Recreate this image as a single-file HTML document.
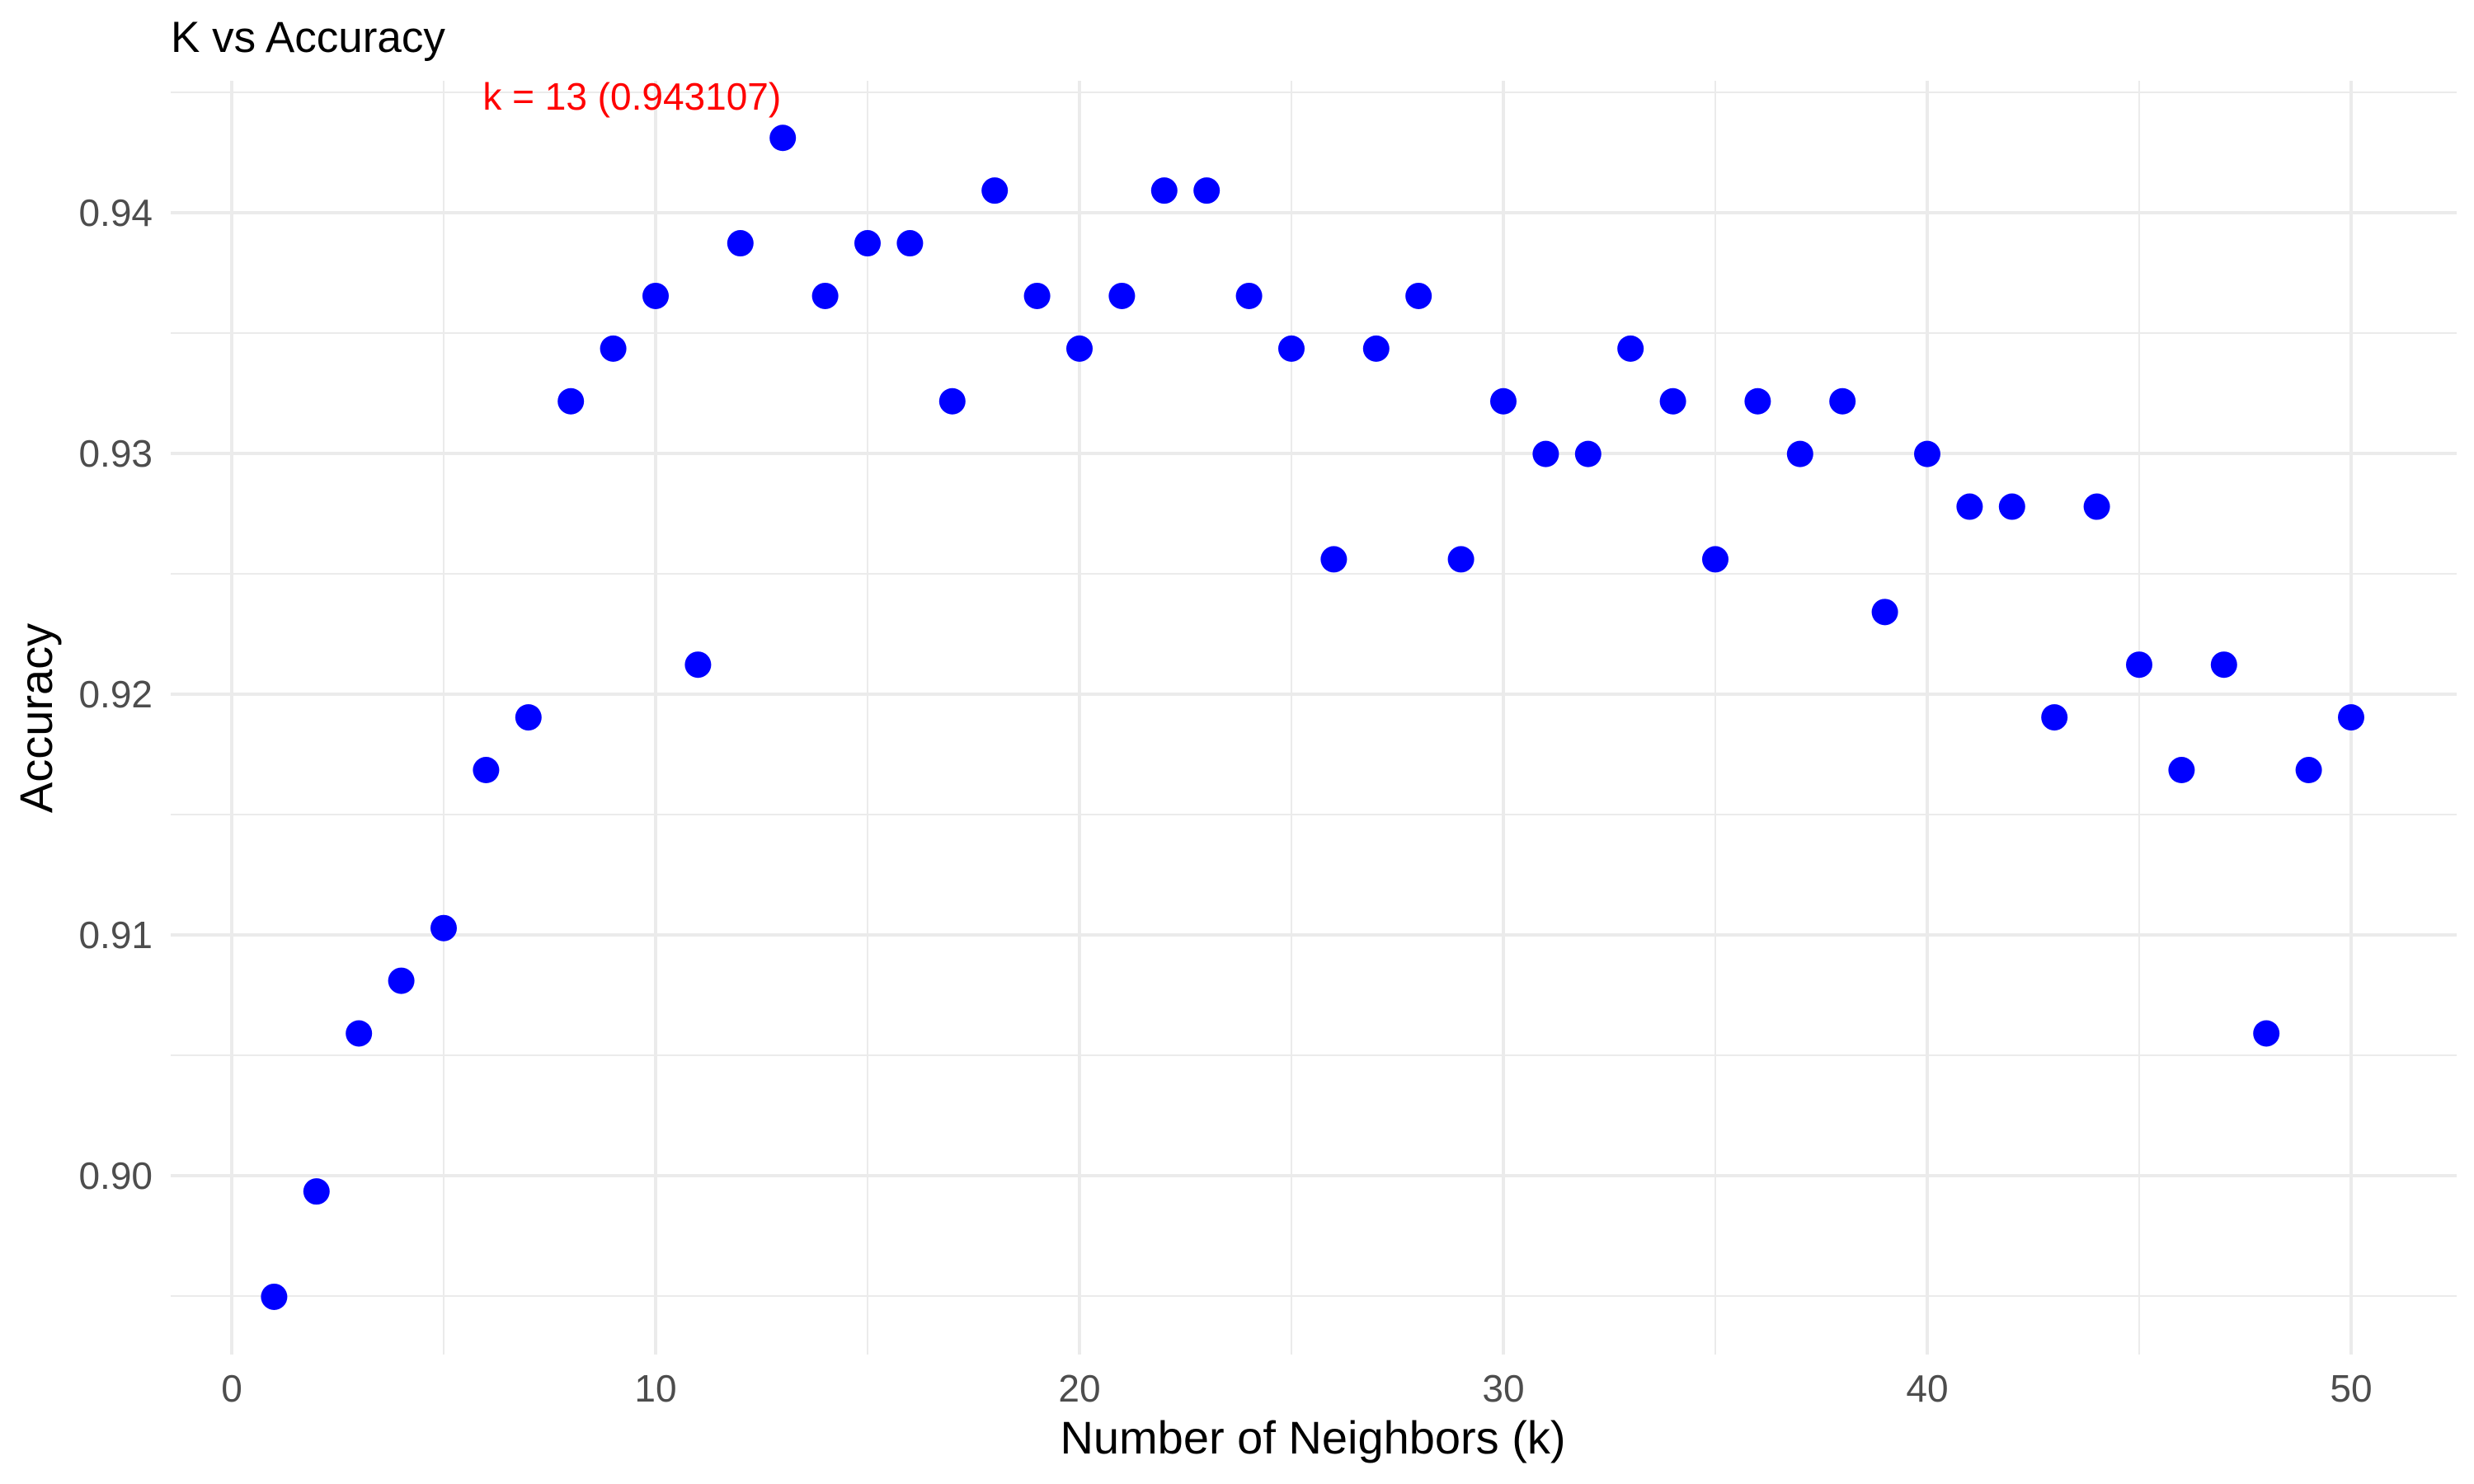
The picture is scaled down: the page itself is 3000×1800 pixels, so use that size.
<!DOCTYPE html>
<html><head><meta charset="utf-8"><style>
html,body{margin:0;padding:0;background:#fff;}
svg{display:block;font-family:"Liberation Sans",sans-serif;}
</style></head><body>
<svg id="chart" width="3000" height="1800" viewBox="0 0 3000 1800">
<g id="grid"></g>
<g id="points"></g>
<g id="axes"></g>
<text x="207" y="63" font-size="53" fill="#000">K vs Accuracy</text>
<text x="1592" y="1763" font-size="56" fill="#000" text-anchor="middle">Number of Neighbors (k)</text>
<text transform="translate(63,871) rotate(-90)" font-size="56" fill="#000" text-anchor="middle">Accuracy</text>
</svg>
<script>
const kValues = [];
for (let i = 1; i <= 50; i++) kValues.push(i);
const accuracyCounts = [409,411,414,415,416,419,420,426,427,428,421,429,431,428,429,429,426,430,428,427,428,430,430,428,427,423,427,428,423,426,425,425,427,426,423,426,425,426,422,425,424,424,420,424,421,419,421,414,419,420];
const accuracy = accuracyCounts.map(c => c / 457);
const xTicks = [0,10,20,30,40,50];
const xMinor = [5,15,25,35,45];
const yTicks = [0.90,0.91,0.92,0.93,0.94];
const yTickLabels = ["0.90","0.91","0.92","0.93","0.94"];
const yMinor = [0.895,0.905,0.915,0.925,0.935,0.945];
const bestK = 13;
const bestAcc = 0.943107;

const NS = "http://www.w3.org/2000/svg";
const X = k => 281 + k * 51.4;
const Y = v => 1426 - (v - 0.90) * 29200;
const L = 207, R = 2979, T = 98, B = 1643;
function mk(tag, attrs, parent) {
  const e = document.createElementNS(NS, tag);
  for (const a in attrs) e.setAttribute(a, attrs[a]);
  parent.appendChild(e);
  return e;
}
const grid = document.getElementById('grid');
const pts = document.getElementById('points');
const axes = document.getElementById('axes');
yMinor.forEach(v => {
  const l = mk('line', {x1:L, x2:R, y1:Y(v), y2:Y(v), stroke:'#ebebeb', 'stroke-width':2}, grid);
  
  
});
xMinor.forEach(v => {
  const l = mk('line', {x1:X(v), x2:X(v), y1:T, y2:B, stroke:'#ebebeb', 'stroke-width':2}, grid);
  
  
});
yTicks.forEach((v, i) => {
  const l = mk('line', {x1:L, x2:R, y1:Y(v), y2:Y(v), stroke:'#ebebeb', 'stroke-width':4}, grid);
  
  
  const t = mk('text', {x:185, y:Y(v)+16, 'font-size':46, fill:'#4d4d4d', 'text-anchor':'end'}, axes);
  t.textContent = yTickLabels[i];
  
  
});
xTicks.forEach(v => {
  const l = mk('line', {x1:X(v), x2:X(v), y1:T, y2:B, stroke:'#ebebeb', 'stroke-width':4}, grid);
  
  
  const t = mk('text', {x:X(v), y:1700, 'font-size':46, fill:'#4d4d4d', 'text-anchor':'middle'}, axes);
  t.textContent = String(v);
  
  
});
kValues.forEach((k, i) => {
  const c = mk('circle', {cx:X(k), cy:Y(accuracy[i]), r:16, fill:'#0000ff'}, pts);
  
  
});
const ann = mk('text', {x:X(bestK)-2, y:133, 'font-size':46, fill:'#ff0000', 'text-anchor':'end'}, axes);
ann.textContent = 'k = ' + bestK + ' (' + bestAcc + ')';


</script>
</body></html>
